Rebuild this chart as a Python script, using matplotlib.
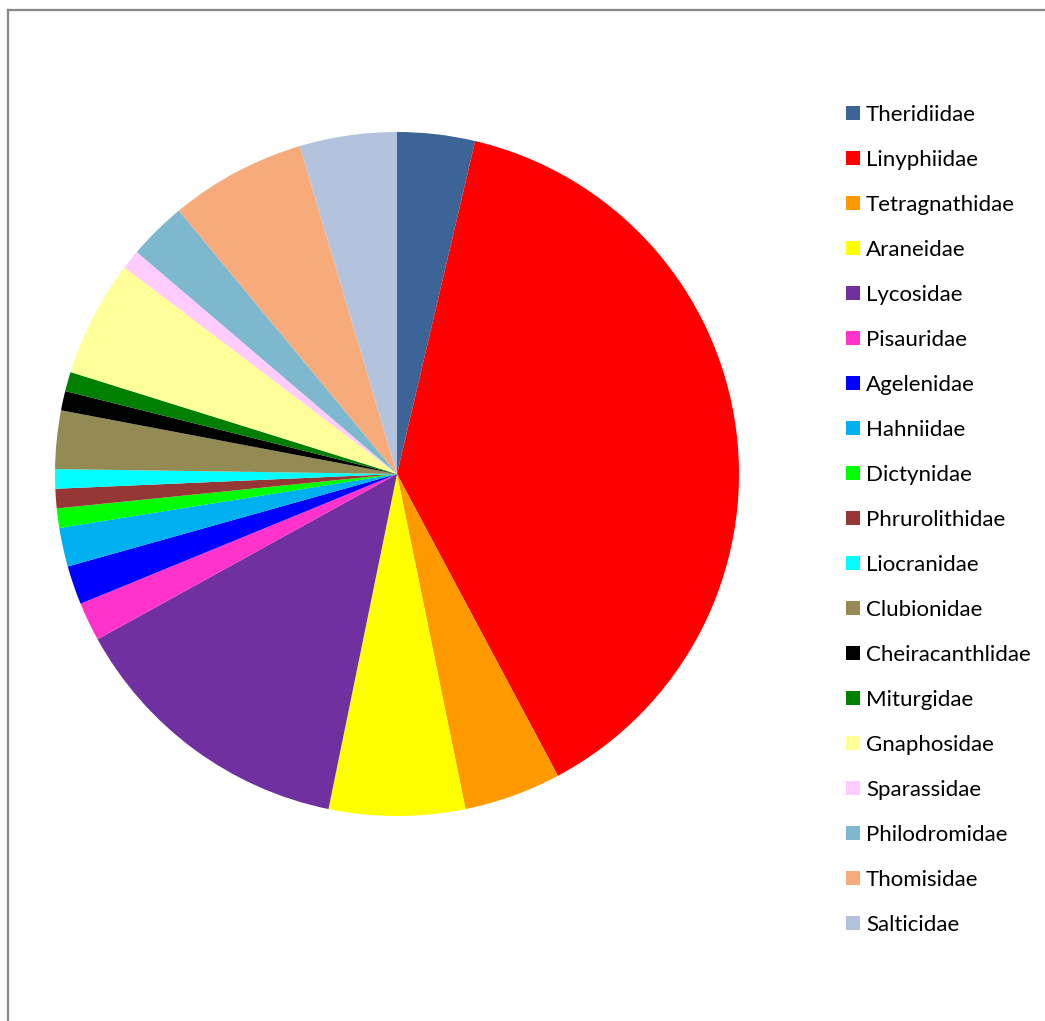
import matplotlib.pyplot as plt
from matplotlib.patches import Patch
from matplotlib.lines import Line2D

plt.rcParams['font.family'] = ['Lato', 'DejaVu Sans']

# spider families and number of specimens
families = ['Theridiidae', 'Linyphiidae', 'Tetragnathidae', 'Araneidae', 'Lycosidae',
            'Pisauridae', 'Agelenidae', 'Hahniidae', 'Dictynidae', 'Phrurolithidae',
            'Liocranidae', 'Clubionidae', 'Cheiracanthlidae', 'Miturgidae', 'Gnaphosidae',
            'Sparassidae', 'Philodromidae', 'Thomisidae', 'Salticidae']
counts = [4, 42, 5, 7, 15,
          2, 2, 2, 1, 1,
          1, 3, 1, 1, 6,
          1, 3, 7, 5]
colors = ['#3C6496', '#FF0000', '#FF9900', '#FFFF00', '#7030A0',
          '#FF33CC', '#0000FF', '#00B0F0', '#00FF00', '#953735',
          '#00FFFF', '#948A54', '#000000', '#008000', '#FFFF99',
          '#FFCCFF', '#7EB8CF', '#F8AB7A', '#B4C3DD']

fig = plt.figure(figsize=(10.45, 10.21), dpi=100)

# grey chart border (only top and left visible in the crop)
fig.add_artist(Line2D([8/1045, 8/1045], [0, 1 - 10/1021], color='#888888', lw=1.6))
fig.add_artist(Line2D([8/1045, 1], [1 - 10/1021, 1 - 10/1021], color='#888888', lw=1.6))

ax = fig.add_axes([55/1045, 205/1021, 684/1045, 684/1021])
ax.pie(counts, colors=colors, startangle=90, counterclock=False,
       wedgeprops=dict(linewidth=0))
ax.set_xlim(-1, 1)
ax.set_ylim(-1, 1)
ax.set_aspect('equal')
ax.axis('off')

handles = [Patch(facecolor=c, edgecolor='none') for c in colors]
fig.legend(handles, families, loc='upper left',
           bbox_to_anchor=(846/1045, 1 - 105/1021),
           frameon=False, fontsize=16, handlelength=0.63, handleheight=0.63,
           handletextpad=0.27, labelspacing=1.125, borderaxespad=0, borderpad=0)

fig.savefig('out.png', dpi=100)
